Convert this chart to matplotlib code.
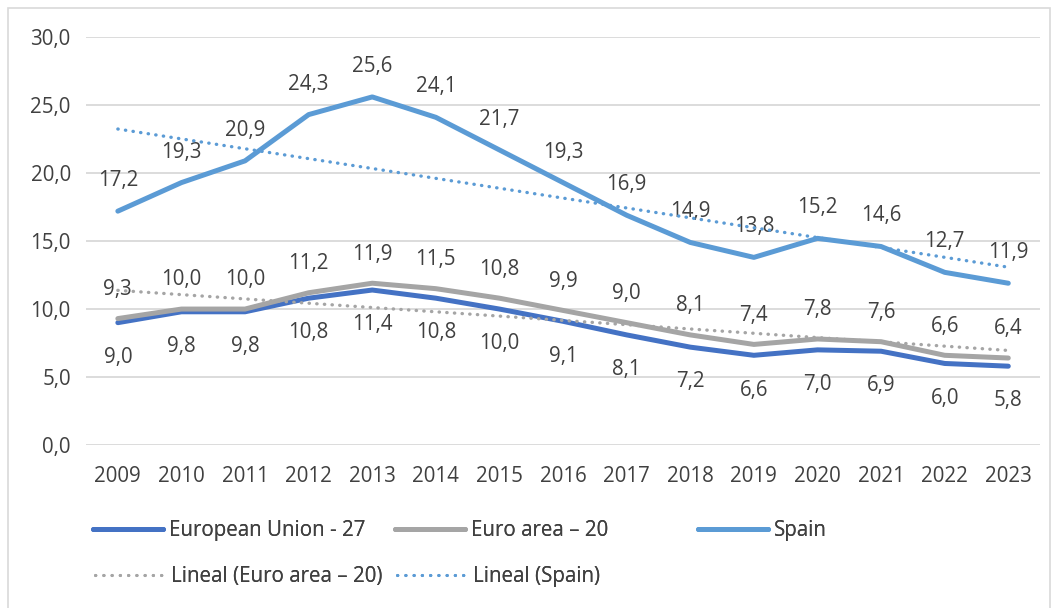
import numpy as np
import matplotlib
matplotlib.use("Agg")
import matplotlib.pyplot as plt
from matplotlib.lines import Line2D
from matplotlib.patches import Rectangle

plt.rcParams['font.family'] = ['Open Sans', 'DejaVu Sans']

years = ['2009', '2010', '2011', '2012', '2013', '2014', '2015', '2016',
         '2017', '2018', '2019', '2020', '2021', '2022', '2023']
eu27 = [9.0, 9.8, 9.8, 10.8, 11.4, 10.8, 10.0, 9.1, 8.1, 7.2, 6.6, 7.0, 6.9, 6.0, 5.8]
euro20 = [9.3, 10.0, 10.0, 11.2, 11.9, 11.5, 10.8, 9.9, 9.0, 8.1, 7.4, 7.8, 7.6, 6.6, 6.4]
spain = [17.2, 19.3, 20.9, 24.3, 25.6, 24.1, 21.7, 19.3, 16.9, 14.9, 13.8, 15.2, 14.6, 12.7, 11.9]

c_eu = '#4472C4'
c_euro = '#A5A5A5'
c_es = '#5B9BD5'
txt = '#404040'

def fmt(v):
    return f'{v:.1f}'.replace('.', ',')

fig = plt.figure(figsize=(10.57, 6.08), dpi=100)
ax = fig.add_axes([0.0814, 0.268, 0.9026, 0.671])
x = np.arange(len(years))

ax.plot(x, eu27, color=c_eu, lw=3.6, solid_capstyle='round', solid_joinstyle='round', zorder=3)
ax.plot(x, euro20, color=c_euro, lw=3.6, solid_capstyle='round', solid_joinstyle='round', zorder=3)
ax.plot(x, spain, color=c_es, lw=3.6, solid_capstyle='round', solid_joinstyle='round', zorder=3)

# linear trendlines (least squares, like Excel)
for data, col in [(euro20, c_euro), (spain, c_es)]:
    k, b = np.polyfit(x, data, 1)
    ax.plot(x, k * x + b, color=col, lw=2.4, linestyle=(0, (0.1, 2.2)),
            dash_capstyle='round', zorder=4)

fs = 14.8
for i in x:
    ax.annotate(fmt(spain[i]), (i, spain[i]), xytext=(0, 22), textcoords='offset points',
                ha='center', va='center', fontsize=fs, color=txt)
    ax.annotate(fmt(euro20[i]), (i, euro20[i]), xytext=(0, 21), textcoords='offset points',
                ha='center', va='center', fontsize=fs, color=txt)
    ax.annotate(fmt(eu27[i]), (i, eu27[i]), xytext=(0, -25), textcoords='offset points',
                ha='center', va='center', fontsize=fs, color=txt)

ax.set_xlim(-0.5, len(years) - 0.5)
ax.set_ylim(0, 30)
ax.set_yticks(np.arange(0, 31, 5))
ax.set_yticklabels([fmt(v) for v in np.arange(0, 31, 5)])
ax.set_xticks(x)
ax.set_xticklabels(years)
ax.tick_params(length=0, labelsize=fs, colors=txt)
ax.tick_params(axis='x', pad=15)
ax.tick_params(axis='y', pad=11)
ax.grid(axis='y', color='#D9D9D9', lw=1.3)
ax.set_axisbelow(True)
for s in ax.spines.values():
    s.set_visible(False)

# legend, placed entry by entry like the Excel layout
dots = (0, (0.1, 2.6))
entries = [
    (Line2D([], [], color=c_eu, lw=3.6, solid_capstyle='round'), 'European Union - 27', 0.088, 0.127),
    (Line2D([], [], color=c_euro, lw=3.6, solid_capstyle='round'), 'Euro area – 20', 0.374, 0.127),
    (Line2D([], [], color=c_es, lw=3.6, solid_capstyle='round'), 'Spain', 0.660, 0.127),
    (Line2D([], [], color=c_euro, lw=2.2, linestyle=dots, dash_capstyle='round'),
     'Lineal (Euro area – 20)', 0.090, 0.051),
    (Line2D([], [], color=c_es, lw=2.2, linestyle=dots, dash_capstyle='round'),
     'Lineal (Spain)', 0.376, 0.051),
]
for h, lab, lx, ly in entries:
    leg = fig.legend([h], [lab], loc='center left', bbox_to_anchor=(lx, ly),
                     frameon=False, fontsize=fs, handlelength=3.4, handletextpad=0.3,
                     borderpad=0, borderaxespad=0)
    for t in leg.get_texts():
        t.set_color(txt)
    fig.add_artist(leg)

fig.add_artist(Rectangle((0.008, -0.01), 0.985, 0.997, transform=fig.transFigure,
                         fill=False, edgecolor='#D9D9D9', lw=1.2))

fig.savefig('out.png', dpi=100, facecolor='white')
